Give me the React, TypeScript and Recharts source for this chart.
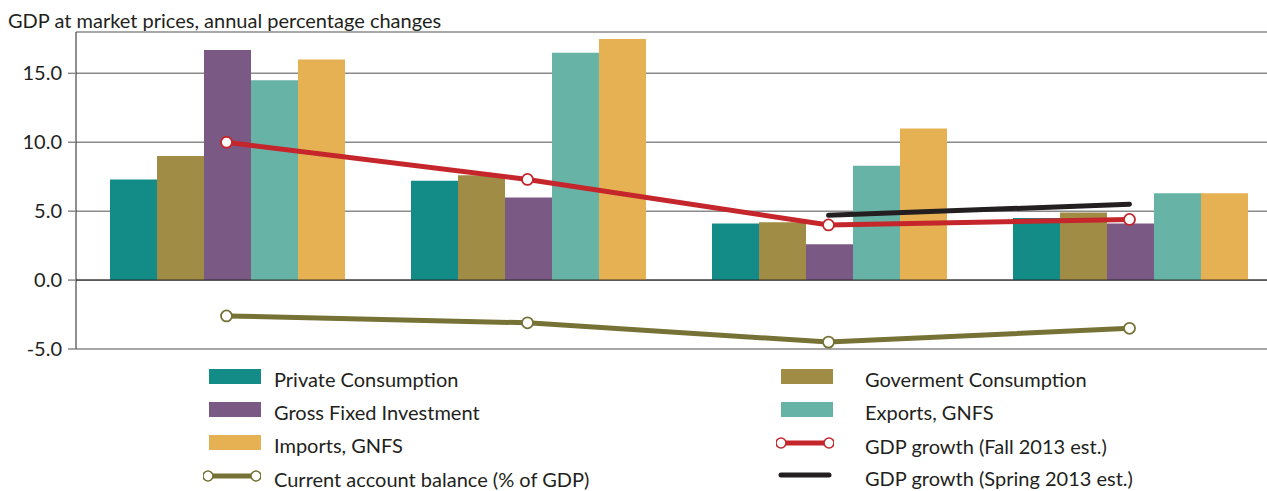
import React from "react";
import { ComposedChart, Bar, Line, XAxis, YAxis, CartesianGrid, ReferenceLine } from "recharts";

const categories = ["2010", "2011", "2012", "2013"];
const privateConsumption = [7.3, 7.2, 4.1, 4.5];
const govermentConsumption = [9.0, 7.6, 4.2, 4.9];
const grossFixedInvestment = [16.7, 6.0, 2.6, 4.1];
const exportsGnfs = [14.5, 16.5, 8.3, 6.3];
const importsGnfs = [16.0, 17.5, 11.0, 6.3];
const gdpFall = [10.0, 7.3, 4.0, 4.4];
const gdpSpring: (number | null)[] = [null, null, 4.7, 5.5];
const currentAccount = [-2.6, -3.1, -4.5, -3.5];
const yTicks = [-5, 0, 5, 10, 15];

const data = categories.map((year, i) => ({
  year,
  privateConsumption: privateConsumption[i],
  govermentConsumption: govermentConsumption[i],
  grossFixedInvestment: grossFixedInvestment[i],
  exportsGnfs: exportsGnfs[i],
  importsGnfs: importsGnfs[i],
  gdpFall: gdpFall[i],
  gdpSpring: gdpSpring[i],
  currentAccount: currentAccount[i],
}));

const FONT = "Lato, 'Open Sans', sans-serif";
const FS = 20;
const TEXT = "#231f20";
const TEAL = "#138b87";
const OLIVE = "#a08c45";
const PURPLE = "#7b5985";
const LIGHT_TEAL = "#67b3a6";
const ORANGE = "#e6b152";
const RED = "#c4262c";
const DARK_OLIVE = "#767235";
const BLACK = "#231f20";
const GRID = "#8a8a8a";

const W = 1290;
const H = 491;
const MARGIN = { top: 32, right: 10, left: 0, bottom: 142 };
const Y_AXIS_W = 76;
const Y_MIN = -5;
const Y_MAX = 18;
const plotW = W - MARGIN.left - MARGIN.right - Y_AXIS_W;
const plotH = H - MARGIN.top - MARGIN.bottom;
const band = plotW / categories.length;
const zeroY = MARGIN.top + (plotH * Y_MAX) / (Y_MAX - Y_MIN);

// year label at the band centre, tick mark at the band's left edge
const YearTick = (props: any) => {
  const { x, payload } = props;
  const bx = x - band / 2;
  return (
    <g>
      <line x1={bx} x2={bx} y1={zeroY} y2={zeroY + 8} stroke={TEXT} strokeWidth={1} />
      <text x={x} y={zeroY + 27} textAnchor="middle" fill={TEXT} fontSize={FS} fontFamily={FONT}>
        {payload.value}
      </text>
    </g>
  );
};

const swatch = (color: string) => (
  <div style={{ width: 52, height: 15, background: color }} />
);

const lineIcon = (color: string, dots: boolean) => (
  <svg width={58} height={14} style={{ display: "block" }}>
    <line x1={5} x2={53} y1={7} y2={7} stroke={color} strokeWidth={5} strokeLinecap={dots ? "butt" : "round"} />
    {dots && <circle cx={5} cy={7} r={5} fill="#fff" stroke={color} strokeWidth={1.6} />}
    {dots && <circle cx={53} cy={7} r={5} fill="#fff" stroke={color} strokeWidth={1.6} />}
  </svg>
);

const legendItems = [
  { label: "Private Consumption", icon: swatch(TEAL), x: 209, tx: 274, y: 369 },
  { label: "Gross Fixed Investment", icon: swatch(PURPLE), x: 209, tx: 274, y: 402 },
  { label: "Imports, GNFS", icon: swatch(ORANGE), x: 209, tx: 274, y: 435 },
  { label: "Current account balance (% of GDP)", icon: lineIcon(DARK_OLIVE, true), x: 203, tx: 274, y: 469 },
  { label: "Goverment Consumption", icon: swatch(OLIVE), x: 781, tx: 865, y: 369 },
  { label: "Exports, GNFS", icon: swatch(LIGHT_TEAL), x: 781, tx: 865, y: 402 },
  { label: "GDP growth (Fall 2013 est.)", icon: lineIcon(RED, true), x: 776, tx: 865, y: 436 },
  { label: "GDP growth (Spring 2013 est.)", icon: lineIcon(BLACK, false), x: 776, tx: 865, y: 468 },
];

export default function App() {
  return (
    <div
      style={{
        position: "absolute",
        left: 0,
        top: 0,
        width: 1267,
        height: 491,
        overflow: "hidden",
        background: "#fff",
        fontFamily: FONT,
        color: TEXT,
      }}
    >
      <div style={{ position: "absolute", left: 8, top: 8, fontSize: FS, lineHeight: "24px", whiteSpace: "nowrap" }}>
        GDP at market prices, annual percentage changes
      </div>
      <ComposedChart width={W} height={H} data={data} margin={MARGIN} barCategoryGap={34} barGap={0}>
        <CartesianGrid vertical={false} stroke={GRID} strokeWidth={1.5} />
        <XAxis
          dataKey="year"
          height={0}
          axisLine={false}
          tickLine={false}
          tick={<YearTick />}
          interval={0}
        />
        <YAxis
          width={Y_AXIS_W}
          domain={[Y_MIN, Y_MAX]}
          ticks={yTicks}
          allowDataOverflow
          tickFormatter={(v: number) => v.toFixed(1)}
          axisLine={{ stroke: TEXT, strokeWidth: 1 }}
          tickLine={{ stroke: GRID, strokeWidth: 1.5 }}
          tickSize={8}
          tickMargin={6}
          tick={{ fill: TEXT, fontSize: FS, fontFamily: FONT }}
        />
        <Bar dataKey="privateConsumption" fill={TEAL} isAnimationActive={false} />
        <Bar dataKey="govermentConsumption" fill={OLIVE} isAnimationActive={false} />
        <Bar dataKey="grossFixedInvestment" fill={PURPLE} isAnimationActive={false} />
        <Bar dataKey="exportsGnfs" fill={LIGHT_TEAL} isAnimationActive={false} />
        <Bar dataKey="importsGnfs" fill={ORANGE} isAnimationActive={false} />
        <ReferenceLine y={0} stroke={TEXT} strokeWidth={1} />
        <Line
          dataKey="gdpSpring"
          stroke={BLACK}
          strokeWidth={5}
          strokeLinecap="round"
          dot={false}
          activeDot={false}
          isAnimationActive={false}
        />
        <Line
          dataKey="gdpFall"
          stroke={RED}
          strokeWidth={5}
          dot={{ r: 5.5, fill: "#fff", stroke: RED, strokeWidth: 1.8 }}
          activeDot={false}
          isAnimationActive={false}
        />
        <Line
          dataKey="currentAccount"
          stroke={DARK_OLIVE}
          strokeWidth={5}
          dot={{ r: 5.5, fill: "#fff", stroke: DARK_OLIVE, strokeWidth: 1.8 }}
          activeDot={false}
          isAnimationActive={false}
        />
      </ComposedChart>
      {legendItems.map((it) => (
        <div key={it.label}>
          <div style={{ position: "absolute", left: it.x, top: it.y }}>{it.icon}</div>
          <div
            style={{
              position: "absolute",
              left: it.tx,
              top: it.y - 2,
              fontSize: FS,
              lineHeight: "24px",
              whiteSpace: "nowrap",
            }}
          >
            {it.label}
          </div>
        </div>
      ))}
    </div>
  );
}
